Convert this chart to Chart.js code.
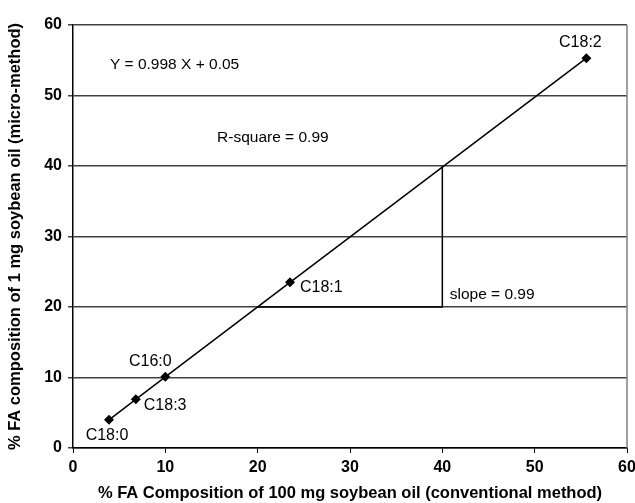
<!DOCTYPE html>
<html>
<head>
<meta charset="utf-8">
<script src="https://cdn.jsdelivr.net/npm/chart.js@4"></script>
<style>
  html, body { margin: 0; padding: 0; background: #fff; }
  #wrap { width: 635px; height: 503px; }
</style>
</head>
<body>
<div id="wrap"><canvas id="chartFA"></canvas></div>
<script>
// ================= DATI =================

const acidi = ["C18:0", "C18:3", "C16:0", "C18:1", "C18:2"];
const convenzionale = [3.9, 6.8, 10.0, 23.5, 55.6];   // % FA, 100 mg
const micro = [4.0, 6.9, 10.1, 23.5, 55.3];           // % FA, 1 mg

const pendenzaX = [20, 40, 40];
const pendenzaY = [20, 20, 40];

const tickValori = [0, 10, 20, 30, 40, 50, 60];

const testi = ["Y = 0.998 X + 0.05", "R-square = 0.99", "slope = 0.99"];
const testiX = [4.0, 15.6, 40.8];
const testiY = [54.3, 44.0, 21.8];

// offset etichette dei punti (pixel) e allineamento
const offsetEtichette = [
    { dx: -2, dy: 16, align: "center" },
    { dx: 8, dy: 6, align: "left" },
    { dx: -15, dy: -15, align: "center" },
    { dx: 10, dy: 5, align: "left" },
    { dx: -6, dy: -16, align: "center" }
];

// ================= PLUGIN =================

const etichette = {
    id: "etichette",
    afterDatasetsDraw(chart) {
        const { ctx, scales: { x, y }, chartArea } = chart;
        ctx.save();

        // bordo destro grigio
        ctx.strokeStyle = "#808080";
        ctx.lineWidth = 1.5;
        ctx.beginPath();
        ctx.moveTo(chartArea.right, chartArea.top);
        ctx.lineTo(chartArea.right, chartArea.bottom);
        ctx.stroke();

        ctx.fillStyle = "#000";
        ctx.textBaseline = "middle";

        ctx.font = "16px 'Liberation Sans', Arial, sans-serif";
        acidi.forEach((nome, i) => {
            const o = offsetEtichette[i];
            ctx.textAlign = o.align;
            ctx.fillText(nome, x.getPixelForValue(convenzionale[i]) + o.dx,
                y.getPixelForValue(micro[i]) + o.dy);
        });

        ctx.font = "15.5px 'Liberation Sans', Arial, sans-serif";
        ctx.textAlign = "left";
        testi.forEach((t, i) => {
            ctx.fillText(t, x.getPixelForValue(testiX[i]), y.getPixelForValue(testiY[i]));
        });

        ctx.restore();
    }
};

// ================= GRAFICO =================

const fontTick = { family: "'Liberation Sans', Arial, sans-serif", size: 16, weight: "bold" };
const fontTitolo = { family: "'Liberation Sans', Arial, sans-serif", size: 16.5, weight: "bold" };

new Chart(document.getElementById("chartFA").getContext("2d"), {
    type: "scatter",
    data: {
        datasets: [
            {
                data: convenzionale.map((v, i) => ({ x: v, y: micro[i] })),
                showLine: true,
                borderColor: "#000",
                borderWidth: 1.5,
                backgroundColor: "#000",
                pointStyle: "rectRot",
                pointRadius: 5,
                pointBorderWidth: 0
            },
            {
                data: pendenzaX.map((v, i) => ({ x: v, y: pendenzaY[i] })),
                showLine: true,
                borderColor: "#000",
                borderWidth: 1.5,
                pointRadius: 0
            }
        ]
    },
    options: {
        responsive: true,
        maintainAspectRatio: false,
        animation: false,
        layout: { padding: { left: 0, right: 8, top: 25, bottom: 0 } },
        plugins: {
            legend: { display: false },
            tooltip: { enabled: false }
        },
        scales: {
            x: {
                type: "linear",
                min: 0,
                max: 60,
                afterBuildTicks: s => { s.ticks = tickValori.map(v => ({ value: v })); },
                afterFit: s => { s.height = 55; s.paddingLeft = 0; s.paddingRight = 0; },
                grid: { drawOnChartArea: false, drawTicks: true, tickLength: 5, color: "#000", lineWidth: 1 },
                border: { display: true, color: "#000", width: 1.5 },
                ticks: { color: "#000", font: fontTick, padding: 5, maxRotation: 0 },
                title: {
                    display: true,
                    text: "% FA Composition of 100 mg soybean oil (conventional method)",
                    color: "#000",
                    font: fontTitolo,
                    padding: { top: 0, bottom: 0 }
                }
            },
            y: {
                type: "linear",
                min: 0,
                max: 60,
                afterBuildTicks: s => { s.ticks = tickValori.map(v => ({ value: v })); },
                afterFit: s => { s.width = 73; },
                grid: { color: "#404040", lineWidth: 1.5, tickLength: 5 },
                border: { display: true, color: "#000", width: 1.5 },
                ticks: { color: "#000", font: fontTick, padding: 6 },
                title: {
                    display: true,
                    text: "% FA composition of 1 mg soybean oil (micro-method)",
                    color: "#000",
                    font: fontTitolo,
                    padding: { top: 6, bottom: 0 }
                }
            }
        }
    },
    plugins: [etichette]
});
</script>
</body>
</html>
